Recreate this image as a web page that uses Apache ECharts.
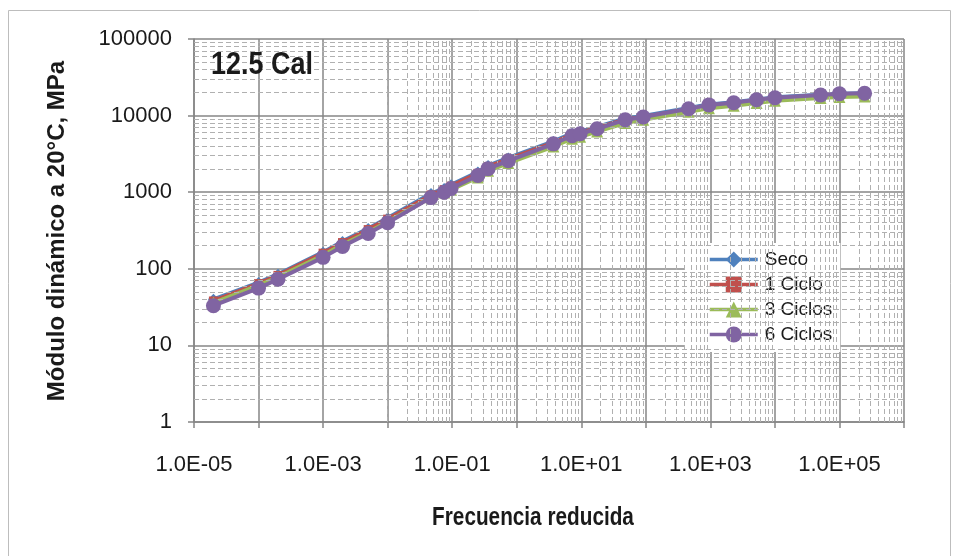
<!DOCTYPE html>
<html>
<head>
<meta charset="utf-8">
<script src="https://cdn.jsdelivr.net/npm/echarts@6/dist/echarts.min.js"></script>
<style>
  html, body { margin: 0; padding: 0; background: #ffffff; }
</style>
</head>
<body>
<div id="myChart" style="width: 959px; height: 556px;"></div>
<script>
// frecuencia reducida (Hz) de cada punto
var frecuencia = [2.0e-5, 1.0e-4, 2.0e-4, 1.0e-3, 2.0e-3, 5.0e-3, 1.0e-2, 4.7e-2, 7.5e-2, 9.6e-2,
  0.25, 0.36, 0.74, 3.7, 7.2, 9.6, 17.6, 48, 91, 460, 950, 2300, 5200, 1.0e4, 5.1e4, 1.0e5, 2.45e5];

// modulo dinamico (MPa) por condicion
var seco = [40, 66, 85, 165, 228, 335, 460, 960, 1120, 1250, 1830, 2230, 2800, 4600, 5850, 6200, 7100,
  9200, 9900, 12600, 14000, 14900, 16200, 17300, 18700, 19300, 19600];
var ciclo1 = [38, 64, 82, 160, 220, 325, 445, 920, 1080, 1200, 1760, 2150, 2700, 4450, 5650, 6000, 6900,
  8900, 9600, 12000, 13400, 14300, 15500, 16600, 17900, 18500, 18900];
var ciclos3 = [36, 61, 78, 150, 207, 300, 410, 860, 990, 1080, 1560, 1900, 2400, 3950, 5000, 5300, 6200,
  8000, 8800, 11200, 12500, 13400, 14600, 15600, 17000, 17500, 17800];
var ciclos6 = [33, 56, 73, 141, 196, 290, 400, 850, 1000, 1120, 1650, 2030, 2570, 4280, 5460, 5800, 6740,
  8810, 9580, 12300, 13800, 14700, 16100, 17100, 18600, 19300, 19600];

var nombres = ['Seco', '1 Ciclo', '3 Ciclos', '6 Ciclos'];
var colores = ['#4F81BD', '#C0504D', '#9BBB59', '#8064A2'];

var fuente = "'Liberation Sans', Arial, sans-serif";

function pares(vals) {
  var out = [];
  for (var i = 0; i < vals.length; i++) out.push([frecuencia[i], vals[i]]);
  return out;
}

// lineas secundarias (2..9 de cada decada)
var menoresX = [], menoresY = [];
for (var e = -5; e < 6; e++) {
  for (var k = 2; k <= 9; k++) menoresX.push({ xAxis: k * Math.pow(10, e) });
}
for (var e2 = 0; e2 < 5; e2++) {
  for (var k2 = 2; k2 <= 9; k2++) menoresY.push({ yAxis: k2 * Math.pow(10, e2) });
}

function etiquetaX(v) {
  var ex = Math.round(Math.log10(v));
  if (Math.abs(ex) % 2 === 0) return '';
  var a = Math.abs(ex);
  return '1.0E' + (ex < 0 ? '-' : '+') + (a < 10 ? '0' + a : a);
}

function etiquetaY(v) {
  return String(Math.round(v));
}

var simbolos = ['diamond', 'rect', 'triangle', 'circle'];
var tamanos = [11, 9, 12, 15];
var valores = [seco, ciclo1, ciclos3, ciclos6];

var series = [{
  name: 'rejilla',
  type: 'line',
  data: [],
  silent: true,
  z: 0,
  markLine: {
    silent: true,
    symbol: 'none',
    label: { show: false },
    animation: false,
    lineStyle: { color: '#b0b0b0', width: 1, type: [5, 3] },
    data: menoresX.concat(menoresY)
  }
}];
var leyenda = [];
for (var s = 0; s < 4; s++) {
  series.push({
    name: nombres[s],
    type: 'line',
    data: pares(valores[s]),
    symbol: simbolos[s],
    symbolSize: tamanos[s],
    showAllSymbol: true,
    lineStyle: { color: colores[s], width: 4 },
    itemStyle: { color: colores[s], borderWidth: 0 },
    z: 2 + s
  });
  leyenda.push({ name: nombres[s], itemStyle: { color: colores[s], borderWidth: 0 } });
}

var option = {
  animation: false,
  backgroundColor: '#ffffff',
  grid: { left: 194, right: 55, top: 39, bottom: 134 },
  legend: {
    data: leyenda,
    orient: 'vertical',
    left: 684,
    top: 243,
    backgroundColor: '#ffffff',
    padding: [7, 8, 8, 24],
    itemWidth: 48,
    itemHeight: 20,
    itemGap: 6,
    lineStyle: { width: 3.5 },
    textStyle: { fontFamily: fuente, fontSize: 19, color: '#1a1a1a', padding: [0, 0, 0, 2] }
  },
  xAxis: {
    type: 'log',
    logBase: 10,
    min: 1e-5,
    max: 1e6,
    interval: 1,
    splitNumber: 11,
    axisLine: { show: true, lineStyle: { color: '#868686', width: 1.5 } },
    axisTick: { show: true, length: 6, lineStyle: { color: '#868686', width: 1.5 } },
    axisLabel: { formatter: etiquetaX, margin: 32, fontFamily: fuente, fontSize: 22, color: '#1a1a1a' },
    splitLine: { show: true, lineStyle: { color: '#868686', width: 1.5 } }
  },
  yAxis: {
    type: 'log',
    logBase: 10,
    min: 1,
    max: 1e5,
    interval: 1,
    splitNumber: 5,
    axisLine: { show: true, lineStyle: { color: '#868686', width: 1.5 } },
    axisTick: { show: true, length: 6, lineStyle: { color: '#868686', width: 1.5 } },
    axisLabel: { formatter: etiquetaY, margin: 22, fontFamily: fuente, fontSize: 22, color: '#1a1a1a' },
    splitLine: { show: true, lineStyle: { color: '#868686', width: 1.5 } }
  },
  graphic: [
    { type: 'rect', shape: { x: 8.5, y: 10.5, width: 942, height: 560 }, style: { fill: 'none', stroke: '#bdbdbd', lineWidth: 1 }, silent: true, z: -1 },
    { type: 'text', x: 211, y: 50, scaleX: 0.87, style: { text: '12.5 Cal', font: 'bold 31px ' + fuente, fill: '#1a1a1a' }, z: 10 },
    { type: 'text', x: 533, y: 518, scaleX: 0.83, style: { text: 'Frecuencia reducida', font: 'bold 25px ' + fuente, fill: '#1a1a1a', align: 'center', verticalAlign: 'middle' } },
    { type: 'text', x: 57, y: 231, rotation: Math.PI / 2, style: { text: 'Módulo dinámico a 20°C, MPa', font: 'bold 24px ' + fuente, fill: '#1a1a1a', align: 'center', verticalAlign: 'middle' } }
  ],
  series: series
};

var myChart = echarts.init(document.getElementById('myChart'));
myChart.setOption(option);
</script>
</body>
</html>
